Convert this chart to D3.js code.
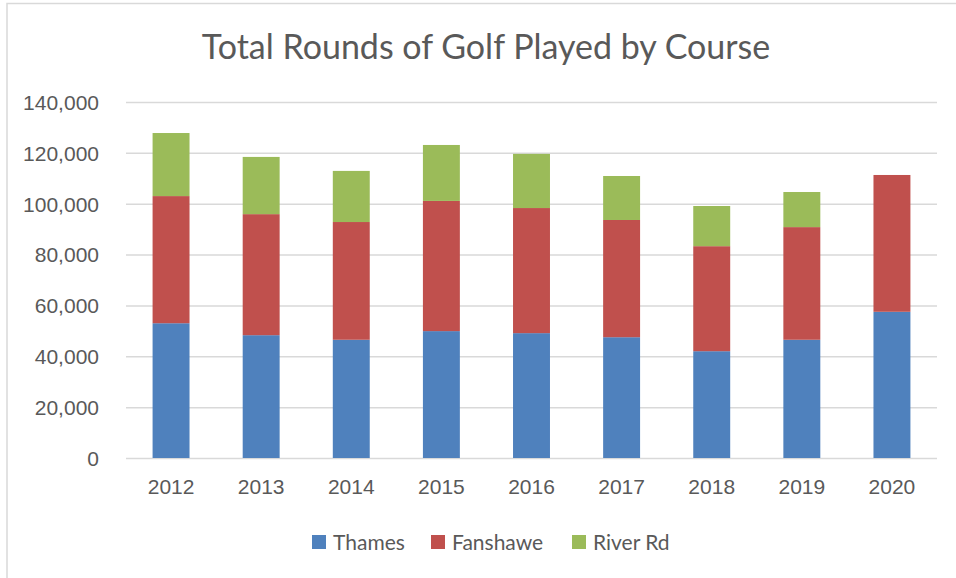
<!DOCTYPE html>
<meta charset="utf-8">
<style>
body { margin: 0; background: #fff; }
svg { display: block; font-family: Lato, "Open Sans", sans-serif; }
.axis path, .axis line { display: none; }
.axis text { fill: #595959; font-size: 21px; }
.grid line { stroke: #d9d9d9; stroke-width: 1.5px; }
.grid path { display: none; }
</style>
<body>
<svg width="956" height="578" id="vis"></svg>
<script src="https://cdnjs.cloudflare.com/ajax/libs/d3/7.8.5/d3.min.js"></script>
<script>
// values
var years = ["2012","2013","2014","2015","2016","2017","2018","2019","2020"];
var thames   = [53000, 48300, 46500, 49900, 49100, 47500, 42000, 46500, 57500];
var fanshawe = [50000, 47600, 46300, 51200, 49200, 46100, 41300, 44300, 53800];
var riverRd  = [24800, 22500, 20100, 22000, 21300, 17300, 15800, 13800, 0];
var seriesNames = ["Thames", "Fanshawe", "River Rd"];
var colours = ["#4f81bd", "#c0504d", "#9bbb59"];
var yTicks = [0, 20000, 40000, 60000, 80000, 100000, 120000, 140000];

var svg = d3.select("svg"),
    margin = {top: 102, right: 19, bottom: 120, left: 126},
    width = +svg.attr("width") - margin.left - margin.right,
    height = +svg.attr("height") - margin.top - margin.bottom;

// chart border (left and top only show in the crop)
svg.append("path")
    .attr("d", "M7,578V3.5H956")
    .attr("fill", "none")
    .attr("stroke", "#d9d9d9")
    .attr("stroke-width", 1.5);

svg.append("text")
    .attr("x", 486)
    .attr("y", 59)
    .attr("text-anchor", "middle")
    .style("font-size", "34px")
    .style("fill", "#595959")
    .text("Total Rounds of Golf Played by Course");

var x = d3.scaleBand().domain(years).range([0, width]).paddingInner(0.59).paddingOuter(0.295),
    y = d3.scaleLinear().domain([0, 140000]).range([height, 0]);

var g = svg.append("g")
    .attr("transform", "translate(" + margin.left + "," + margin.top + ")");

g.append("g")
    .attr("class", "grid")
    .call(d3.axisLeft(y).tickValues(yTicks).tickSize(-width).tickFormat(""));

var rows = years.map(function(d, i) {
  return {year: d, "Thames": thames[i], "Fanshawe": fanshawe[i], "River Rd": riverRd[i]};
});
var stacked = d3.stack().keys(seriesNames)(rows);

g.selectAll(".series").data(stacked).enter().append("g")
    .attr("class", "series")
    .attr("fill", function(d, i) { return colours[i]; })
  .selectAll("rect").data(function(d) { return d; }).enter().append("rect")
    .attr("x", function(d) { return x(d.data.year); })
    .attr("width", x.bandwidth())
    .attr("y", function(d) { return y(d[1]); })
    .attr("height", function(d) { return y(d[0]) - y(d[1]); });

g.append("g")
    .attr("class", "axis")
    .attr("transform", "translate(-24,0)")
    .call(d3.axisLeft(y).tickValues(yTicks).tickSize(0).tickFormat(d3.format(",")))
  .selectAll("text").attr("dy", "0.35em");

g.append("g")
    .attr("class", "axis")
    .attr("transform", "translate(0," + height + ")")
    .call(d3.axisBottom(x).tickSize(0).tickPadding(21));

// legend
var legendX = [312, 431, 572];
var legend = svg.append("g").selectAll("g").data(seriesNames).enter().append("g")
    .attr("transform", function(d, i) { return "translate(" + legendX[i] + ",535)"; });
legend.append("rect")
    .attr("width", 14).attr("height", 14)
    .attr("fill", function(d, i) { return colours[i]; });
legend.append("text")
    .attr("x", 21).attr("y", 14.5)
    .style("font-size", "21px")
    .style("fill", "#595959")
    .text(function(d) { return d; });
</script>
</body>
